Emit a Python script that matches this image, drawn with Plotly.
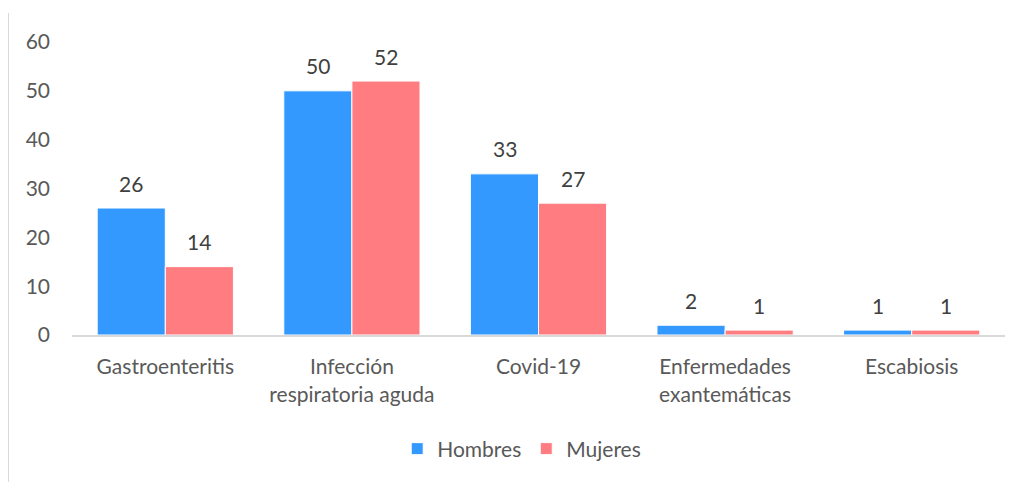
import plotly.graph_objects as go

categories = ["Gastroenteritis", "Infección<br>respiratoria aguda", "Covid-19",
              "Enfermedades<br>exantemáticas", "Escabiosis"]
hombres = [26, 50, 33, 2, 1]
mujeres = [14, 52, 27, 1, 1]
y_ticks = [0, 10, 20, 30, 40, 50, 60]

font_fam = "Lato, Open Sans, sans-serif"
txt_col = "#595959"
lbl_col = "#404040"
FS = 21

fig = go.Figure()
fig.add_trace(go.Bar(name="Hombres", x=categories, y=hombres, marker_color="#3399FF",
                     marker_line=dict(color="white", width=1)))
fig.add_trace(go.Bar(name="Mujeres", x=categories, y=mujeres, marker_color="#FF7C80",
                     marker_line=dict(color="white", width=1)))

for vals, xs in ((hombres, -34), (mujeres, 34)):
    for c, v in zip(categories, vals):
        fig.add_annotation(x=c, y=v, xref="x", yref="y", text=str(v), showarrow=False,
                           xshift=xs, yshift=25, yanchor="middle",
                           font=dict(size=FS, color=lbl_col, family=font_fam))

fig.update_layout(
    width=1013, height=474,
    margin=dict(l=64, r=16, t=34, b=147),
    paper_bgcolor="white", plot_bgcolor="white",
    barmode="group", bargap=0.27, bargroupgap=0,
    font=dict(family=font_fam, size=FS, color=txt_col),
    showlegend=True,
    legend=dict(orientation="h", x=0.482, xanchor="center", y=-0.389, yanchor="middle",
                font=dict(size=FS, color=txt_col), itemwidth=30, traceorder="normal"),
)
fig.update_yaxes(range=[0, 60], tickvals=y_ticks, showgrid=False, zeroline=False,
                 showline=False, ticks="", ticklabelstandoff=21,
                 tickfont=dict(size=FS, color=txt_col))
fig.update_xaxes(showline=True, linecolor="#D9D9D9", linewidth=2, ticks="",
                 tickfont=dict(size=FS, color=txt_col), ticklabelstandoff=12)

fig.add_shape(type="line", xref="paper", yref="paper",
              x0=-0.0686, x1=-0.0686, y0=1.099, y1=-0.51,
              line=dict(color="#D9D9D9", width=2))

fig.write_html("out.html")
